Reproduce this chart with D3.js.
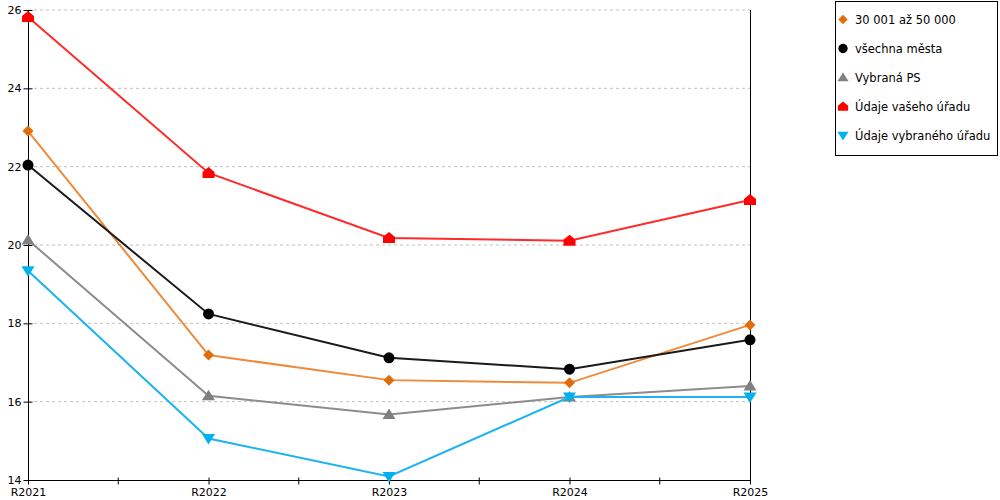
<!DOCTYPE html>
<html>
<head>
<meta charset="utf-8">
<script src="https://cdn.jsdelivr.net/npm/d3@7"></script>
<style>
  body { margin: 0; background: #fff; }
  svg { display: block; font-family: "DejaVu Sans", Verdana, sans-serif; }
</style>
</head>
<body>
<div id="chart"></div>
<script>
// data
var years = ["R2021", "R2022", "R2023", "R2024", "R2025"];
var yTicks = [14, 16, 18, 20, 22, 24, 26];
var seriesNames = ["30 001 až 50 000", "všechna města", "Vybraná PS", "Údaje vašeho úřadu", "Údaje vybraného úřadu"];
var orangeVals = [22.91, 17.19, 16.55, 16.48, 17.96];
var blackVals = [22.04, 18.24, 17.12, 16.83, 17.58];
var grayVals = [20.13, 16.15, 15.67, 16.12, 16.40];
var redVals = [25.82, 21.84, 20.18, 20.11, 21.15];
var blueVals = [19.34, 15.06, 14.09, 16.12, 16.12];

var width = 1000, height = 500;

var svg = d3.select("#chart").append("svg")
    .attr("width", width)
    .attr("height", height);

var x = d3.scalePoint().domain(years).range([28, 750]);
var y = d3.scaleLinear().domain([14, 26]).range([480, 10]);

// marker shapes
var diamond = {draw: function(c, s) { var r = 5.5; c.moveTo(0, -r); c.lineTo(r, 0); c.lineTo(0, r); c.lineTo(-r, 0); c.closePath(); }};
var circle = {draw: function(c, s) { c.moveTo(5.5, 0); c.arc(0, 0, 5.5, 0, 2 * Math.PI); }};
var triUp = {draw: function(c, s) { c.moveTo(0, -6); c.lineTo(6.5, 4.5); c.lineTo(-6.5, 4.5); c.closePath(); }};
var triDown = {draw: function(c, s) { c.moveTo(0, 6); c.lineTo(6.5, -4.5); c.lineTo(-6.5, -4.5); c.closePath(); }};
var house = {draw: function(c, s) { c.moveTo(0, -6); c.lineTo(6, -1); c.lineTo(6, 5); c.lineTo(-6, 5); c.lineTo(-6, -1); c.closePath(); }};

var series = [
    {name: seriesNames[0], values: orangeVals, line: "#ee8a3c", fill: "#e36c0a", shape: diamond},
    {name: seriesNames[1], values: blackVals, line: "#1a1a1a", fill: "#000000", shape: circle},
    {name: seriesNames[2], values: grayVals, line: "#8c8c8c", fill: "#808080", shape: triUp},
    {name: seriesNames[3], values: redVals, line: "#ff2a2a", fill: "#ff0000", shape: house},
    {name: seriesNames[4], values: blueVals, line: "#1ab4ee", fill: "#00b0f0", shape: triDown}
];

// grid
svg.append("g").selectAll("line")
    .data(yTicks.filter(function(d) { return d > 14; }))
    .enter().append("line")
    .attr("x1", 28).attr("x2", 750)
    .attr("y1", function(d) { return y(d); })
    .attr("y2", function(d) { return y(d); })
    .attr("stroke", "#c0c0c0")
    .attr("stroke-dasharray", "3,3");

// y axis
var yAxis = svg.append("g")
    .attr("transform", "translate(28.5,0)")
    .attr("font-size", 11)
    .attr("font-family", "DejaVu Sans")
    .call(d3.axisLeft(y).tickValues(yTicks).tickSize(5).tickPadding(2));
yAxis.attr("font-size", 11).attr("font-family", "DejaVu Sans");
yAxis.select(".domain").remove();
yAxis.append("line").attr("x1", 0).attr("x2", 0).attr("y1", 10).attr("y2", 480).attr("stroke", "#000");
yAxis.selectAll(".tick line").attr("x2", -5).attr("x1", 4);
yAxis.selectAll("text").style("font-size", "11px").attr("fill", "#000");

// right border
svg.append("line")
    .attr("x1", 750.5).attr("x2", 750.5)
    .attr("y1", 10).attr("y2", 480)
    .attr("stroke", "#000");

// x axis
var xAxis = svg.append("g")
    .attr("transform", "translate(0,480.5)")
    .call(d3.axisBottom(x).tickSize(4).tickPadding(4));
xAxis.attr("font-size", 11).attr("font-family", "DejaVu Sans");
xAxis.select(".domain").attr("d", "M28,0H750");
xAxis.selectAll(".tick line").attr("y1", -3);
xAxis.selectAll("text").style("font-size", "11px").attr("fill", "#000");
var mids = years.slice(1).map(function(d, i) { return (x(years[i]) + x(d)) / 2; });
xAxis.selectAll(".mid").data(mids).enter().append("line")
    .attr("class", "mid")
    .attr("x1", function(d) { return d; }).attr("x2", function(d) { return d; })
    .attr("y1", -3).attr("y2", 4)
    .attr("stroke", "#000");

// lines and markers
var line = d3.line()
    .x(function(d, i) { return x(years[i]); })
    .y(function(d) { return y(d); });

series.forEach(function(s) {
    var g = svg.append("g");
    g.append("path")
        .attr("d", line(s.values))
        .attr("fill", "none")
        .attr("stroke", s.line)
        .attr("stroke-width", 2);
    g.selectAll("path.m")
        .data(s.values)
        .enter().append("path")
        .attr("class", "m")
        .attr("transform", function(d, i) { return "translate(" + x(years[i]) + "," + y(d) + ")"; })
        .attr("d", d3.symbol().type(s.shape))
        .attr("fill", s.fill);
});

// legend
var legend = svg.append("g");
legend.append("rect")
    .attr("x", 835.5).attr("y", 1.5)
    .attr("width", 162).attr("height", 154)
    .attr("fill", "#fff")
    .attr("stroke", "#000");

var item = legend.selectAll("g.item")
    .data(series)
    .enter().append("g")
    .attr("class", "item")
    .attr("transform", function(d, i) { return "translate(843," + (19.5 + i * 29) + ")"; });
item.append("path")
    .attr("d", function(d) { return d3.symbol().type(d.shape)(); })
    .attr("transform", "scale(0.85)")
    .attr("fill", function(d) { return d.fill; });
item.append("text")
    .attr("x", 12)
    .attr("dy", "0.35em")
    .attr("font-size", "11.5px")
    .text(function(d) { return d.name; });
</script>
</body>
</html>
